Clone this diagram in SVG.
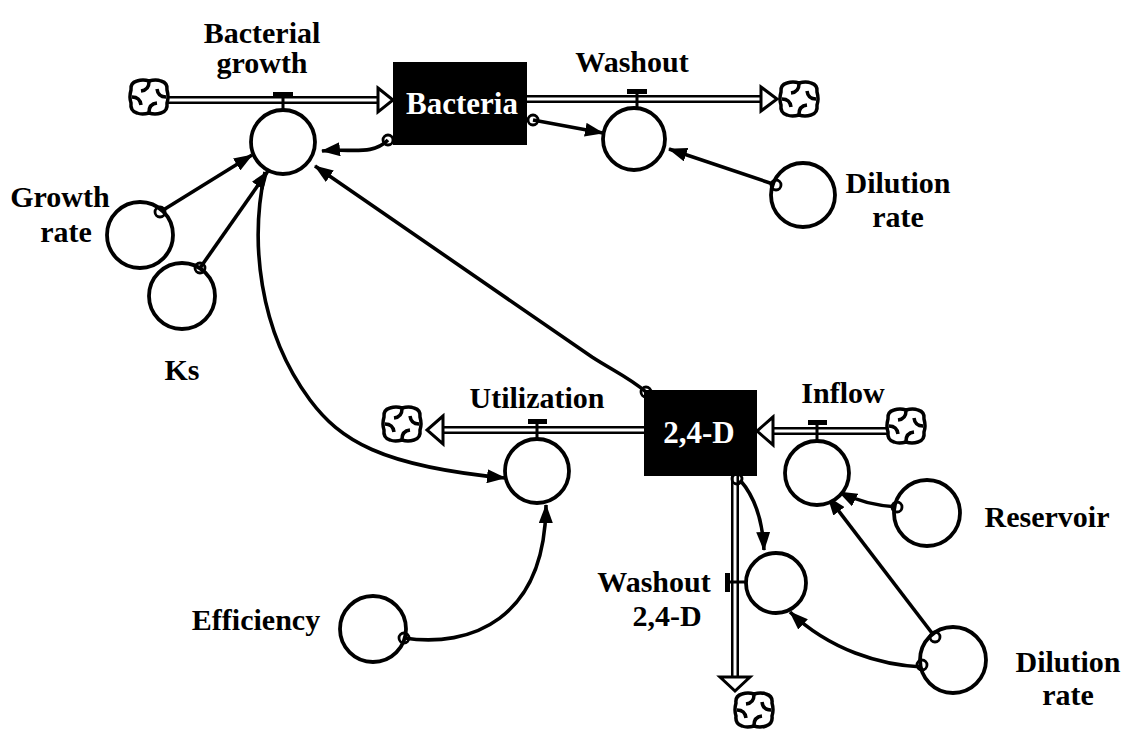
<svg xmlns="http://www.w3.org/2000/svg" width="1125" height="731" viewBox="0 0 1125 731">
<style>
.lbl{font-family:"Liberation Serif","Times New Roman",serif;font-size:30px;font-weight:bold;fill:#000;text-anchor:middle}
.box{font-family:"Liberation Serif","Times New Roman",serif;font-size:31px;font-weight:bold;fill:#fff;text-anchor:middle}
.conv{fill:#fff;stroke:#000;stroke-width:3.8}
.pipeO{stroke:#000;stroke-width:8;fill:none}
.pipeI{stroke:#fff;stroke-width:3;fill:none}
.head{fill:#fff;stroke:#000;stroke-width:3;stroke-linejoin:miter}
.valve{stroke:#000;stroke-width:3;fill:none}
.vbar{fill:#000}
.link{stroke:#000;stroke-width:3.6;fill:none;marker-end:url(#arr)}
.dot{fill:none;stroke:#000;stroke-width:2.8}
.stock{fill:#000}
</style>
<defs>
<marker id="arr" viewBox="0 0 19 14" refX="18" refY="7" markerWidth="19" markerHeight="14" markerUnits="userSpaceOnUse" orient="auto">
<path d="M0 0 L19 7 L0 14 Z" fill="#000"/>
</marker>
<symbol id="cloud" viewBox="0 0 42 38" overflow="visible">
<path d="M9 3 Q15 1 21 3 Q28 1 33 3 Q40 5 39 12 Q41 19 39 25 Q40 33 33 35 Q27 37 21 35 Q14 37 9 35 Q2 33 3 25 Q1 19 3 12 Q2 5 9 3 Z" fill="#fff" stroke="#000" stroke-width="3.5"/>
<path d="M21 4 Q21 12 13 13 M38 19 Q30 19 29 11 M21 34 Q21 26 29 25 M4 19 Q12 19 13 27" fill="none" stroke="#000" stroke-width="3.5"/>
</symbol>
</defs>

<g id="connectors">
<g id="flow-bacterial-growth">
<line class="pipeO" x1="168" y1="100" x2="380" y2="100"/>
<line class="pipeI" x1="168" y1="100" x2="382" y2="100"/>
<path class="head" d="M378 88 L393 100 L378 112 Z"/>
</g>
<g id="flow-washout">
<line class="pipeO" x1="527" y1="99" x2="762" y2="99"/>
<line class="pipeI" x1="527" y1="99" x2="764" y2="99"/>
<path class="head" d="M761 87 L777 99 L761 111 Z"/>
</g>
<g id="flow-utilization">
<line class="pipeO" x1="644" y1="430" x2="440" y2="430"/>
<line class="pipeI" x1="644" y1="430" x2="438" y2="430"/>
<path class="head" d="M443 416 L427 430 L443 444 Z"/>
</g>
<g id="flow-inflow">
<line class="pipeO" x1="888" y1="431" x2="770" y2="431"/>
<line class="pipeI" x1="888" y1="431" x2="768" y2="431"/>
<path class="head" d="M773 417 L757 431 L773 445 Z"/>
</g>
<g id="flow-washout-24d">
<line class="pipeO" x1="735" y1="476" x2="735" y2="678"/>
<line class="pipeI" x1="735" y1="476" x2="735" y2="680"/>
<path class="head" d="M720 677 L750 677 L735 691 Z"/>
</g>
<g id="valves">
<rect class="vbar" x="273" y="92" width="20" height="5"/>
<line class="valve" x1="283" y1="96" x2="283" y2="110"/>
<rect class="vbar" x="627" y="89" width="20" height="5"/>
<line class="valve" x1="637" y1="93" x2="637" y2="107"/>
<rect class="vbar" x="528" y="419" width="19" height="5"/>
<line class="valve" x1="537" y1="423" x2="537" y2="439"/>
<rect class="vbar" x="808" y="420" width="19" height="5"/>
<line class="valve" x1="817" y1="424" x2="817" y2="441"/>
<rect class="vbar" x="725" y="573" width="5" height="19"/>
<line class="valve" x1="729" y1="582" x2="745" y2="582"/>
</g>
<path class="link" d="M388 140 C372 156 352 148 322 151"/>
<path class="link" d="M533 120 L603 133"/>
<path class="link" d="M776 185 L669 149"/>
<path class="link" d="M160 212 L252 155"/>
<path class="link" d="M200 268 L268 171"/>
<path class="link" d="M646 392 C630 378 612 370 592 357 L315 166"/>
<path class="link" d="M265 172 C250 240 258 330 310 400 C340 440 380 466 505 478"/>
<path class="link" d="M404 638 C470 648 545 620 546 505"/>
<path class="link" d="M740 480 Q762 505 764 550"/>
<path class="link" d="M897 507 Q865 505 839 492"/>
<path class="link" d="M935 637 L828 497"/>
<path class="link" d="M922 667 C880 665 830 650 790 612"/>
</g>

<g id="clouds">
<use href="#cloud" x="128" y="78" width="42" height="38"/>
<use href="#cloud" x="778" y="80" width="42" height="38"/>
<use href="#cloud" x="381" y="405" width="42" height="38"/>
<use href="#cloud" x="885" y="407" width="42" height="38"/>
<use href="#cloud" x="733" y="691" width="42" height="38"/>
</g>

<g id="node-bacteria">
<rect class="stock" x="393" y="62" width="134" height="83"/>
<text class="box" x="462" y="114">Bacteria</text>
</g>
<g id="node-24d">
<rect class="stock" x="644" y="390" width="113" height="86"/>
<text class="box" x="699" y="443">2,4-D</text>
</g>

<g id="node-bacterial-growth">
<circle class="conv" cx="283" cy="142" r="32"/>
<text class="lbl" x="262" y="43">Bacterial</text>
<text class="lbl" x="262" y="73">growth</text>
</g>
<g id="node-washout">
<circle class="conv" cx="634" cy="139" r="31"/>
<text class="lbl" x="632" y="72">Washout</text>
</g>
<g id="node-dilution-rate-1">
<circle class="conv" cx="803" cy="195" r="32"/>
<text class="lbl" x="898" y="193">Dilution</text>
<text class="lbl" x="898" y="227">rate</text>
</g>
<g id="node-growth-rate">
<circle class="conv" cx="140" cy="235" r="33"/>
<text class="lbl" x="60" y="207">Growth</text>
<text class="lbl" x="66" y="242">rate</text>
</g>
<g id="node-ks">
<circle class="conv" cx="182" cy="296" r="33"/>
<text class="lbl" x="182" y="380">Ks</text>
</g>
<g id="node-utilization">
<circle class="conv" cx="537" cy="471" r="32"/>
<text class="lbl" x="537" y="408">Utilization</text>
</g>
<g id="node-inflow">
<circle class="conv" cx="817" cy="473" r="32"/>
<text class="lbl" x="843" y="403">Inflow</text>
</g>
<g id="node-reservoir">
<circle class="conv" cx="927" cy="513" r="33"/>
<text class="lbl" x="1047" y="527">Reservoir</text>
</g>
<g id="node-washout-24d">
<circle class="conv" cx="776" cy="583" r="30"/>
<text class="lbl" x="654" y="592">Washout</text>
<text class="lbl" x="667" y="626">2,4-D</text>
</g>
<g id="node-dilution-rate-2">
<circle class="conv" cx="953" cy="660" r="33"/>
<text class="lbl" x="1068" y="672">Dilution</text>
<text class="lbl" x="1068" y="705">rate</text>
</g>
<g id="node-efficiency">
<circle class="conv" cx="373" cy="629" r="33"/>
<text class="lbl" x="256" y="630">Efficiency</text>
</g>

<g id="link-origins">
<circle class="dot" cx="388" cy="140" r="5"/>
<circle class="dot" cx="533" cy="120" r="5"/>
<circle class="dot" cx="776" cy="185" r="5"/>
<circle class="dot" cx="160" cy="212" r="5"/>
<circle class="dot" cx="200" cy="268" r="5"/>
<circle class="dot" cx="646" cy="392" r="5"/>
<circle class="dot" cx="404" cy="638" r="5"/>
<circle class="dot" cx="737" cy="479" r="5"/>
<circle class="dot" cx="897" cy="507" r="5"/>
<circle class="dot" cx="935" cy="637" r="5"/>
<circle class="dot" cx="922" cy="665" r="5"/>
</g>
</svg>
